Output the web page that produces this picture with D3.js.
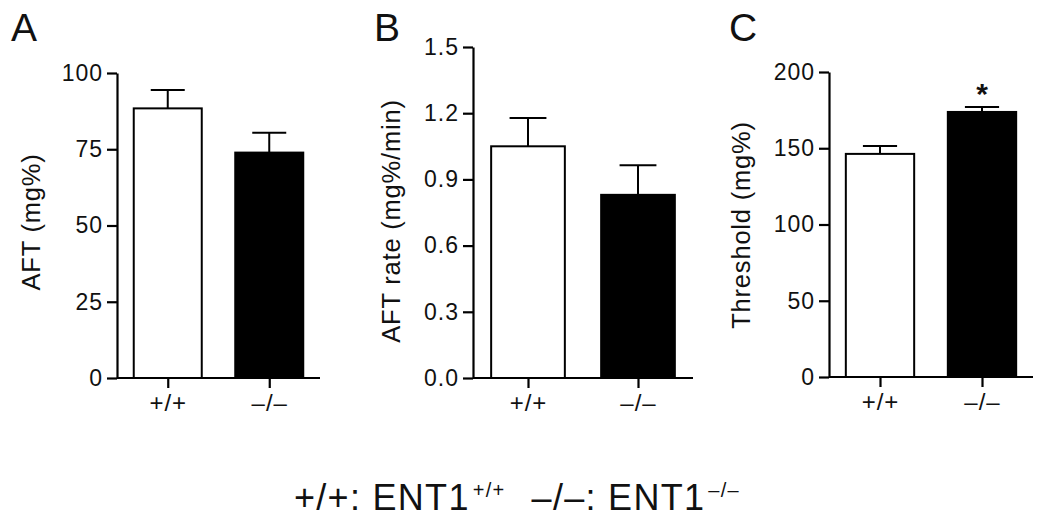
<!DOCTYPE html>
<html>
<head>
<meta charset="utf-8">
<script src="https://cdn.jsdelivr.net/npm/d3@7"></script>
<style>
  body { margin: 0; background: #fff; }
  svg { display: block; }
  text { font-family: "Liberation Sans", Arial, Helvetica, sans-serif; fill: #111; }
</style>
</head>
<body>
<div id="chart"></div>
<script>
// genotype groups (x categories)
const groups = ["+/+", "–/–"];

// A: alcohol-free threshold
const aftMean = [88.4, 73.9];
const aftSem = [6.0, 6.5];
const aftTicks = [0, 25, 50, 75, 100];

// B: AFT rate
const rateMean = [1.05, 0.83];
const rateSem = [0.128, 0.134];
const rateTicks = [0, 0.3, 0.6, 0.9, 1.2, 1.5];

// C: threshold
const thresholdMean = [146.3, 173.8];
const thresholdSem = [5.2, 3.3];
const thresholdTicks = [0, 50, 100, 150, 200];
const thresholdSig = [false, true];

const W = 1050, H = 528;
const svg = d3.select("#chart").append("svg")
    .attr("width", W)
    .attr("height", H);

const panels = [
    { letter: "A", label: "AFT (mg%)", mean: aftMean, sem: aftSem, ticks: aftTicks, fmt: d3.format("d"),
      sig: [false, false], left: 117, right: 320, top: 73, bottom: 378, letterX: 11, labelX: 40, labelY: 222 },
    { letter: "B", label: "AFT rate (mg%/min)", mean: rateMean, sem: rateSem, ticks: rateTicks, fmt: d3.format(".1f"),
      sig: [false, false], left: 473, right: 693, top: 47, bottom: 378, letterX: 374, labelX: 400, labelY: 221 },
    { letter: "C", label: "Threshold (mg%)", mean: thresholdMean, sem: thresholdSem, ticks: thresholdTicks, fmt: d3.format("d"),
      sig: thresholdSig, left: 829, right: 1033, top: 72, bottom: 377, letterX: 729, labelX: 750, labelY: 225 }
];

const fills = ["#fff", "#000"];

panels.forEach(p => {
    const g = svg.append("g");

    const x = d3.scalePoint()
        .domain(groups)
        .range([p.left, p.right])
        .padding(0.5);
    const barW = x.step() * 0.67;

    const y = d3.scaleLinear()
        .domain([p.ticks[0], p.ticks[p.ticks.length - 1]])
        .range([p.bottom, p.top]);

    // bars
    g.selectAll(".bar")
        .data(groups)
        .enter().append("rect")
        .attr("x", d => x(d) - barW / 2)
        .attr("y", (d, i) => y(p.mean[i]))
        .attr("width", barW)
        .attr("height", (d, i) => p.bottom - y(p.mean[i]))
        .attr("fill", (d, i) => fills[i])
        .attr("stroke", "#000")
        .attr("stroke-width", 2);

    // error bars (upper only)
    g.selectAll(".err")
        .data(groups)
        .enter().append("line")
        .attr("x1", d => x(d))
        .attr("x2", d => x(d))
        .attr("y1", (d, i) => y(p.mean[i]))
        .attr("y2", (d, i) => y(p.mean[i] + p.sem[i]))
        .attr("stroke", "#000")
        .attr("stroke-width", 2);

    g.selectAll(".cap")
        .data(groups)
        .enter().append("line")
        .attr("x1", d => x(d) - barW / 4)
        .attr("x2", d => x(d) + barW / 4)
        .attr("y1", (d, i) => y(p.mean[i] + p.sem[i]))
        .attr("y2", (d, i) => y(p.mean[i] + p.sem[i]))
        .attr("stroke", "#000")
        .attr("stroke-width", 2);

    // significance stars
    g.selectAll(".star")
        .data(groups.filter((d, i) => p.sig[i]))
        .enter().append("text")
        .attr("x", d => x(d))
        .attr("y", d => y(p.mean[groups.indexOf(d)] + p.sem[groups.indexOf(d)]) - 3)
        .attr("text-anchor", "middle")
        .style("font-size", "30px")
        .style("font-weight", "bold")
        .text("*");

    // y axis
    const yAxis = g.append("g")
        .attr("transform", `translate(${p.left},0)`)
        .call(d3.axisLeft(y).tickValues(p.ticks).tickFormat(p.fmt).tickSize(10).tickSizeOuter(0).tickPadding(4));

    // x axis
    const xAxis = g.append("g")
        .attr("transform", `translate(0,${p.bottom})`)
        .call(d3.axisBottom(x).tickSize(10).tickSizeOuter(0).tickPadding(6));

    [yAxis, xAxis].forEach(ax => {
        ax.select(".domain").attr("stroke", "#000").attr("stroke-width", 2.2);
        ax.selectAll(".tick line").attr("stroke", "#000").attr("stroke-width", 2.2);
        ax.selectAll(".tick text")
            .style("font-family", "'Liberation Sans', Arial, sans-serif")
            .style("fill", "#111")
            .style("letter-spacing", "1px");
    });
    yAxis.selectAll(".tick text").style("font-size", "23px");
    xAxis.selectAll(".tick text").style("font-size", "24px");
    // x axis spans the full panel width with no outer ticks
    xAxis.select(".domain").attr("d", `M${p.left},0H${p.right}`);

    // y axis title
    g.append("text")
        .attr("transform", `translate(${p.labelX},${p.labelY}) rotate(-90)`)
        .attr("text-anchor", "middle")
        .style("font-size", "25.5px")
        .style("letter-spacing", "0.8px")
        .text(p.label);

    // panel letter
    g.append("text")
        .attr("x", p.letterX)
        .attr("y", 41)
        .style("font-size", "39px")
        .text(p.letter);
});

// genotype key at the bottom
const key = svg.append("text")
    .attr("x", 517)
    .attr("y", 510)
    .attr("text-anchor", "middle")
    .style("font-size", "36px")
    .style("letter-spacing", "1.3px");

key.append("tspan").text("+/+: ENT1");
key.append("tspan").attr("dy", -13).attr("dx", 3).style("font-size", "20px").text("+/+");
key.append("tspan").attr("dy", 13).attr("dx", 26).text("–/–: ENT1");
key.append("tspan").attr("dy", -13).attr("dx", 3).style("font-size", "20px").text("–/–");
</script>
</body>
</html>
